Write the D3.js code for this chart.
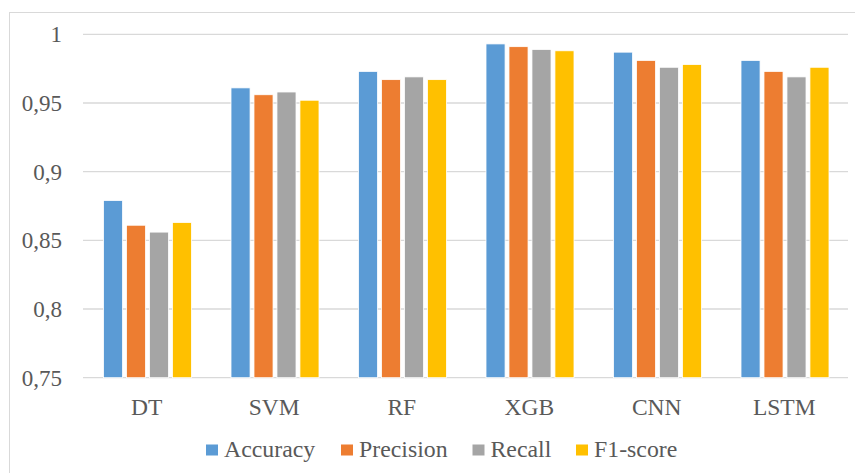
<!DOCTYPE html>
<html>
<head>
<meta charset="utf-8">
<script src="https://cdn.jsdelivr.net/npm/d3@7"></script>
<style>
  html, body { margin: 0; padding: 0; background: #fff; }
  svg { display: block; }
</style>
</head>
<body>
<svg id="chart" width="855" height="473"></svg>
<script>
// Model names along the x axis
const models = ["DT", "SVM", "RF", "XGB", "CNN", "LSTM"];
// Metric series
const metrics = ["Accuracy", "Precision", "Recall", "F1-score"];
const accuracy  = [0.879, 0.961, 0.973, 0.993, 0.987, 0.981];
const precision = [0.861, 0.956, 0.967, 0.991, 0.981, 0.973];
const recall    = [0.856, 0.958, 0.969, 0.989, 0.976, 0.969];
const f1score   = [0.863, 0.952, 0.967, 0.988, 0.978, 0.976];
// Y axis ticks
const yTicks = [0.75, 0.8, 0.85, 0.9, 0.95, 1];
const yTickLabels = ["0,75", "0,8", "0,85", "0,9", "0,95", "1"];
const colors = ["#5B9BD5", "#ED7D31", "#A5A5A5", "#FFC000"];

const seriesValues = [accuracy, precision, recall, f1score];
const FONT = "Liberation Serif";

const svg = d3.select("#chart");

// Outer chart frame
svg.append("rect")
  .attr("x", 9.5).attr("y", 12.5)
  .attr("width", 860).attr("height", 480)
  .attr("fill", "#fff")
  .attr("stroke", "#d9d9d9").attr("stroke-width", 1);

const plot = { left: 83, right: 848, top: 34.3, bottom: 377.7 };

const y = d3.scaleLinear().domain([0.75, 1]).range([plot.bottom, plot.top]);
const x0 = d3.scaleBand().domain(models).range([plot.left, plot.right]).padding(0);
const x1 = d3.scaleBand().domain(metrics).range([20.5, 108.5]).paddingInner(0.17).paddingOuter(0);
const color = d3.scaleOrdinal().domain(metrics).range(colors);

// Horizontal gridlines
svg.append("g")
  .selectAll("line")
  .data(yTicks)
  .join("line")
  .attr("x1", plot.left).attr("x2", plot.right)
  .attr("y1", d => y(d)).attr("y2", d => y(d))
  .attr("stroke", "#d9d9d9").attr("stroke-width", 1.3);

// Y tick labels
svg.append("g")
  .selectAll("text")
  .data(yTicks)
  .join("text")
  .attr("x", 62)
  .attr("y", d => y(d))
  .attr("dy", "0.35em")
  .attr("text-anchor", "end")
  .attr("font-family", FONT)
  .attr("font-size", 23)
  .attr("fill", "#595959")
  .text((d, i) => yTickLabels[i]);

// Bars
const groups = svg.append("g")
  .selectAll("g")
  .data(models)
  .join("g")
  .attr("transform", d => `translate(${x0(d)},0)`);

groups.selectAll("rect")
  .data((m, i) => metrics.map((k, j) => ({ key: k, value: seriesValues[j][i] })))
  .join("rect")
  .attr("x", d => x1(d.key))
  .attr("width", x1.bandwidth())
  .attr("y", d => y(d.value))
  .attr("height", d => y(0.75) - y(d.value))
  .attr("fill", d => color(d.key))
  .attr("stroke", "#fff").attr("stroke-width", 0.8);

// Category labels
svg.append("g")
  .selectAll("text")
  .data(models)
  .join("text")
  .attr("x", d => x0(d) + x0.bandwidth() / 2)
  .attr("y", 415)
  .attr("text-anchor", "middle")
  .attr("font-family", FONT)
  .attr("font-size", 23.5)
  .attr("fill", "#595959")
  .text(d => d);

// Legend
const legendX = [206, 341, 472.5, 576];
const legend = svg.append("g")
  .selectAll("g")
  .data(metrics)
  .join("g")
  .attr("transform", (d, i) => `translate(${legendX[i]},0)`);

legend.append("rect")
  .attr("x", 0).attr("y", 444.5)
  .attr("width", 12).attr("height", 11)
  .attr("fill", d => color(d));

legend.append("text")
  .attr("x", 18).attr("y", 457)
  .attr("font-family", FONT)
  .attr("font-size", 23.8)
  .attr("fill", "#595959")
  .text(d => d);
</script>
</body>
</html>
